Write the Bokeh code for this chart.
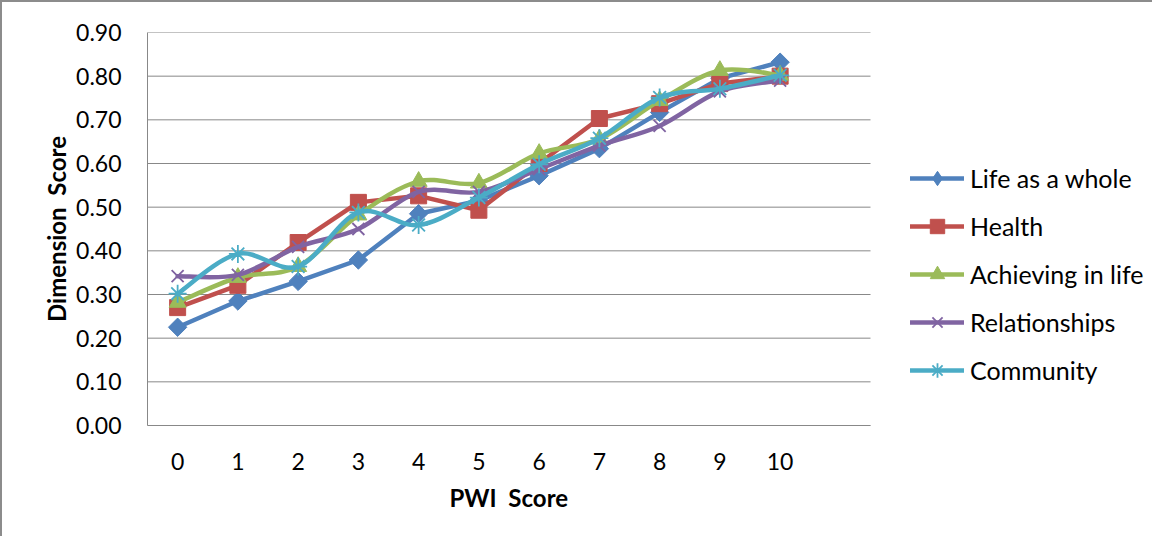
import numpy as np
from bokeh.plotting import figure
from bokeh.models import (FixedTicker, NumeralTickFormatter, Legend, LegendItem, Range1d,
                          ColumnDataSource, Title)
from bokeh.embed import file_html
from bokeh.resources import INLINE

# ---------------- data ----------------
pwi_scores = [0, 1, 2, 3, 4, 5, 6, 7, 8, 9, 10]
y_ticks = [0.0, 0.1, 0.2, 0.3, 0.4, 0.5, 0.6, 0.7, 0.8, 0.9]

series_names = ["Life as a whole", "Health", "Achieving in life", "Relationships", "Community"]
life_as_a_whole = [0.225, 0.285, 0.330, 0.379, 0.485, 0.515, 0.572, 0.634, 0.717, 0.795, 0.832]
health = [0.270, 0.321, 0.419, 0.511, 0.526, 0.493, 0.600, 0.703, 0.737, 0.783, 0.800]
achieving_in_life = [0.282, 0.339, 0.364, 0.482, 0.559, 0.555, 0.623, 0.656, 0.744, 0.813, 0.802]
relationships = [0.342, 0.345, 0.409, 0.450, 0.535, 0.535, 0.587, 0.641, 0.686, 0.765, 0.790]
community = [0.302, 0.393, 0.364, 0.488, 0.459, 0.522, 0.598, 0.658, 0.751, 0.771, 0.802]

x_title = "PWI\u00a0 Score"
y_title = "Dimension\u00a0 Score"

series_values = [life_as_a_whole, health, achieving_in_life, relationships, community]
colors = ["#4F81BD", "#C0504D", "#9BBB59", "#8064A2", "#4BACC6"]
markers = ["square", "square", "triangle", "x", "asterisk"]
legend_markers = ["diamond", "square", "triangle", "x", "asterisk"]
marker_angles = [np.pi / 4, 0.0, 0.0, 0.0, 0.0]
marker_sizes = [13, 16, 17, 17, 18]
smoothed = [False, False, True, True, True]

FONT = "Lato"
GRID = "#888888"

# category axis: one slot per score plus one empty slot at the right (as in the source chart)
X_START = pwi_scores[0] - 0.5
X_END = pwi_scores[-1] + 1.5
PLOT_W = 723          # pixel width of the gridded area
FRAME_W = 1005        # frame also hosts the legend on its right
x_view_end = X_START + (X_END - X_START) * FRAME_W / PLOT_W

p = figure(frame_width=FRAME_W, frame_height=393, output_backend="svg", toolbar_location=None,
           x_range=Range1d(X_START, x_view_end), y_range=Range1d(0.0, 0.9),
           min_border_left=145, min_border_top=30, min_border_right=0, min_border_bottom=111)
p.styles = {"border-left": "2px solid #8c8c8c", "border-top": "2px solid #8c8c8c"}
p.outline_line_color = None
p.background_fill_color = "white"
p.border_fill_color = "white"

p.xgrid.visible = False
p.ygrid.visible = False
# horizontal gridlines limited to the category span
p.segment(x0=X_START, x1=X_END, y0=y_ticks, y1=y_ticks, line_color=GRID, line_width=1)

p.yaxis.ticker = FixedTicker(ticks=y_ticks)
p.yaxis.formatter = NumeralTickFormatter(format="0.00")
p.xaxis.ticker = FixedTicker(ticks=pwi_scores)
p.xaxis.bounds = (X_START, X_END)

for ax in (p.xaxis[0], p.yaxis[0]):
    ax.axis_line_color = GRID
    ax.axis_line_width = 1
    ax.major_tick_line_color = None
    ax.minor_tick_line_color = None
    ax.major_tick_out = 0
    ax.major_tick_in = 0
    ax.major_label_text_font = FONT
    ax.major_label_text_font_size = "23px"
    ax.major_label_text_color = "black"
    ax.axis_label_text_font = FONT
    ax.axis_label_text_font_size = "24px"
    ax.axis_label_text_font_style = "bold"
    ax.axis_label_text_color = "black"

p.yaxis.axis_label = y_title
p.yaxis.major_label_standoff = 26
p.yaxis.axis_label_standoff = 2
p.xaxis.major_label_standoff = 27

# x-axis title centred under the category span (not under the legend area)
x_title_obj = Title(text=x_title, align="left", offset=302, standoff=16,
                    text_font=FONT, text_font_size="24px", text_font_style="bold",
                    text_color="black")
p.add_layout(x_title_obj, "below")


def bezier_source(xs, ys):
    xs = np.asarray(xs, dtype=float)
    ys = np.asarray(ys, dtype=float)
    n = len(xs)
    i0 = np.arange(n - 1)
    i1 = i0 + 1
    prev_i = np.maximum(i0 - 1, 0)
    next2_i = np.minimum(i0 + 2, n - 1)
    cx0 = xs[i0] + (xs[i1] - xs[prev_i]) / 6.0
    cy0 = ys[i0] + (ys[i1] - ys[prev_i]) / 6.0
    cx1 = xs[i1] - (xs[next2_i] - xs[i0]) / 6.0
    cy1 = ys[i1] - (ys[next2_i] - ys[i0]) / 6.0
    return ColumnDataSource(dict(x0=xs[i0], y0=ys[i0], x1=xs[i1], y1=ys[i1],
                                 cx0=cx0, cy0=cy0, cx1=cx1, cy1=cy1))


items = []
for name, vals, col, mk, lmk, ang, sz, sm in zip(series_names, series_values, colors, markers,
                                                  legend_markers, marker_angles, marker_sizes, smoothed):
    if sm:
        src = bezier_source(pwi_scores, vals)
        p.bezier(x0="x0", y0="y0", x1="x1", y1="y1", cx0="cx0", cy0="cy0", cx1="cx1", cy1="cy1",
                 source=src, line_color=col, line_width=4.5, line_cap="round")
        # one-point line: draws nothing in the plot, only serves as the legend's line sample
        line_r = p.line(x=pwi_scores[:1], y=vals[:1], line_color=col, line_width=4.5, line_cap="round")
    else:
        line_r = p.line(x=pwi_scores, y=vals, line_color=col, line_width=4.5,
                        line_join="round", line_cap="round")
    if mk in ("x", "asterisk"):
        sc = p.scatter(x=pwi_scores, y=vals, marker=mk, size=sz, line_color=col,
                       line_width=1.8, fill_color=None)
        legend_sc = sc
    else:
        if lmk != mk:
            # legend sample for the rotated-square (diamond) marker; hidden under the first real marker
            legend_sc = p.scatter(x=pwi_scores[:1], y=vals[:1], marker=lmk, size=sz,
                                  line_color=col, fill_color=col, line_width=1)
        sc = p.scatter(x=pwi_scores, y=vals, marker=mk, size=sz, angle=ang,
                       line_color=col, fill_color=col, line_width=1)
        if lmk == mk:
            legend_sc = sc
    items.append(LegendItem(label=name, renderers=[line_r, legend_sc]))

legend = Legend(items=items, location=(763, 37), orientation="vertical",
                glyph_width=54, glyph_height=36, label_height=36, spacing=12,
                label_standoff=6, padding=0, margin=0,
                label_text_font=FONT, label_text_font_size="25px", label_text_color="black",
                border_line_color=None, background_fill_alpha=0)
p.add_layout(legend, "center")

open("out.html", "w").write(file_html(p, INLINE))
